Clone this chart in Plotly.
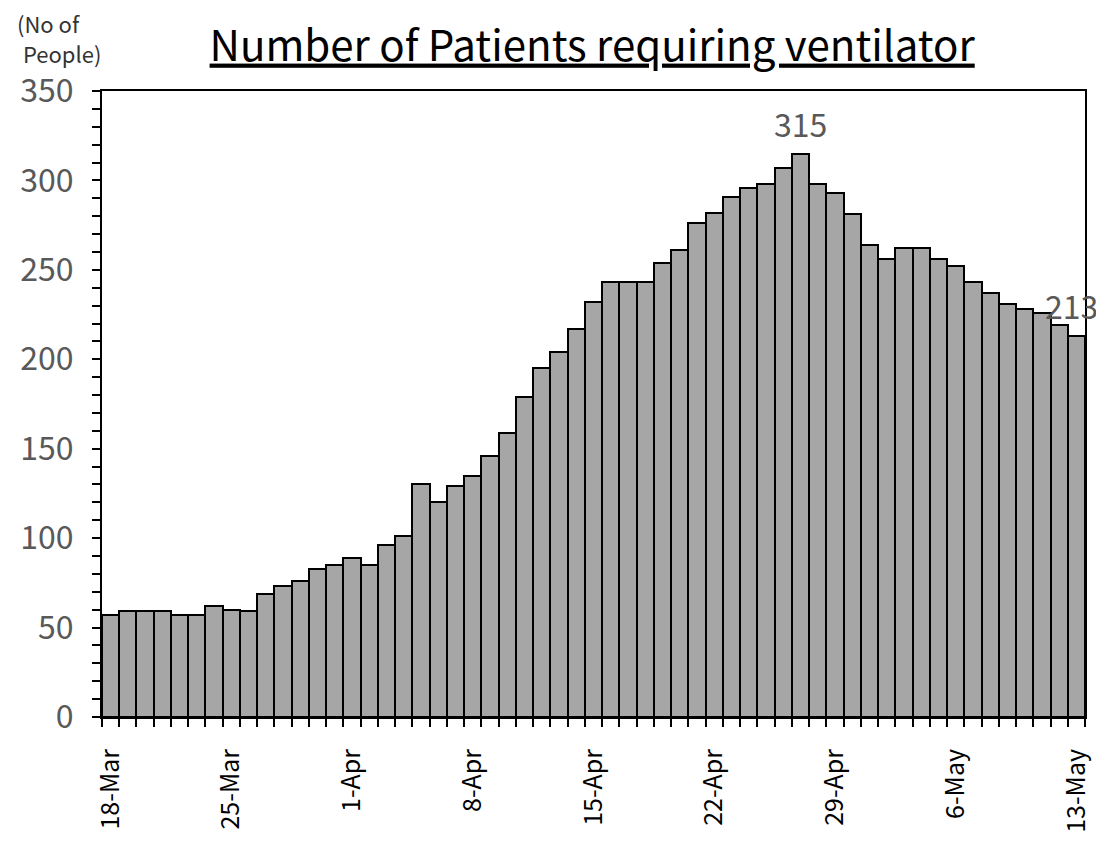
import plotly.graph_objects as go
import pandas as pd

# daily number of patients on ventilator, 18-Mar .. 13-May
dates = pd.date_range("2020-03-18", "2020-05-13", freq="D")
patients = [57, 59, 59, 59, 57, 57, 62, 60, 59, 69,
            73, 76, 83, 85, 89, 85, 96, 101, 130, 120,
            129, 135, 146, 159, 179, 195, 204, 217, 232, 243,
            243, 243, 254, 261, 276, 282, 291, 296, 298, 307,
            315, 298, 293, 281, 264, 256, 262, 262, 256, 252,
            243, 237, 231, 228, 226, 219, 213]
day_labels = [f"{d.day}-{d.strftime('%b')}" for d in dates]
label_every = 7
y_ticks = [0, 50, 100, 150, 200, 250, 300, 350]
unit_lines = ["(No of", "People)"]

font = "Noto Sans CJK JP, Noto Sans, sans-serif"
x = list(range(len(patients)))

fig = go.Figure(go.Bar(
    x=x, y=patients,
    marker=dict(color="#a6a6a6", line=dict(color="black", width=2)),
    cliponaxis=False,
))

# value labels on the peak and the last day
peak = patients.index(max(patients))
for i, dx in ((peak, 0), (x[-1], -5)):
    fig.add_annotation(x=i, y=patients[i], text=str(patients[i]),
                       showarrow=False, yanchor="bottom", yshift=6, xshift=dx,
                       font=dict(family=font, size=32, color="#595959"))

# page body adds 8px, so figure is 8px smaller than the window
fig.update_layout(
    width=1096, height=842,
    margin=dict(l=90, r=19, t=83, b=133),
    paper_bgcolor="white", plot_bgcolor="white",
    bargap=0, showlegend=False,
    title=dict(text="<u>Number of Patients requiring ventilator</u>",
               x=0.533, xanchor="center", y=0.955, yanchor="middle",
               font=dict(family=font, size=42, color="black")),
    font=dict(family=font),
)

# y unit label, two lines above the axis
for txt, ux, uy in zip(unit_lines, (-0.088, -0.082), (1.108, 1.061)):
    fig.add_annotation(xref="paper", yref="paper", x=ux, y=uy,
                       xanchor="left", yanchor="middle", text=txt,
                       showarrow=False,
                       font=dict(family=font, size=22, color="#333333"))

fig.update_xaxes(
    range=[-0.5, len(patients) - 0.5],
    tickmode="array", tickvals=x[::label_every], ticktext=day_labels[::label_every],
    tickangle=-90, ticks="", ticklabelstandoff=20,
    tickfont=dict(family=font, size=25, color="black"),
    showline=True, linecolor="black", linewidth=2, mirror=True,
    showgrid=False, zeroline=False,
    minor=dict(tickmode="linear", tick0=-0.5, dtick=1, ticks="outside",
               ticklen=8, tickwidth=2, tickcolor="black", showgrid=False),
)
fig.update_yaxes(
    range=[0, 350], tickmode="array", tickvals=y_ticks,
    ticks="outside", ticklen=8, tickwidth=2, tickcolor="black",
    ticklabelstandoff=12,
    tickfont=dict(family=font, size=32, color="#595959"),
    showline=True, linecolor="black", linewidth=2, mirror=True,
    showgrid=False, zeroline=False,
    minor=dict(tickmode="linear", tick0=0, dtick=10, ticks="outside",
               ticklen=8, tickwidth=2, tickcolor="black", showgrid=False),
)

fig.write_html("out.html")
